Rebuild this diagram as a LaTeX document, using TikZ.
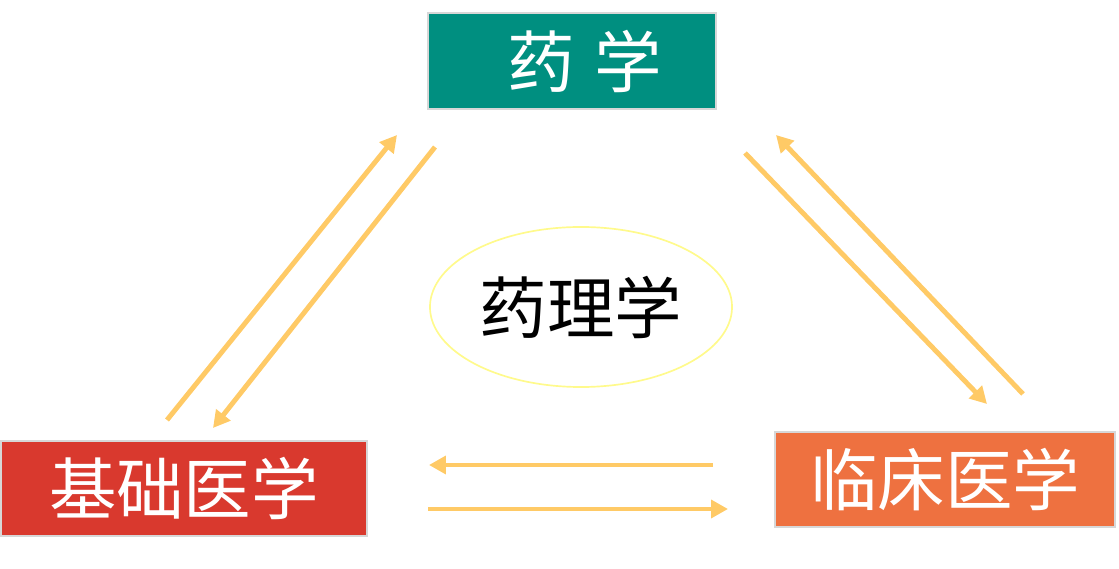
\documentclass[tikz,border=0pt]{standalone}
\usepackage{fontspec}
\setmainfont{Noto Sans CJK SC}
\usepackage{tikz}
\usetikzlibrary{arrows.meta}
\usetikzlibrary{shapes.geometric}
\definecolor{yaoteal}{RGB}{0,143,128}
\definecolor{jichured}{RGB}{217,57,46}
\definecolor{linchuangorange}{RGB}{238,113,64}
\definecolor{arrowgold}{RGB}{255,202,102}
\definecolor{ovalyellow}{RGB}{255,250,140}
\definecolor{boxgray}{RGB}{215,215,215}

\begin{document}
\begin{tikzpicture}[x=0.025cm,y=-0.025cm,
  subject/.style={draw=boxgray,line width=1.2pt,text=white,inner sep=0pt,
    minimum height=2.375cm,font=\fontsize{48}{56}\selectfont},
  link/.style={draw=arrowgold,line width=3.5pt,-{Triangle[length=0.42cm,width=0.44cm]}}]
\useasboundingbox (0,0) rectangle (1119,569);
\node[subject,fill=yaoteal,minimum width=7.2cm,minimum height=2.4cm](yx) at (572,61){\hspace{0.65cm}药\hspace{0.5cm}学};
\node[subject,fill=jichured,minimum width=9.15cm](jc) at (184,488.5){基础医学};
\node[subject,fill=linchuangorange,minimum width=8.5cm](lc) at (945,479.5){临床医学};
\node[draw=ovalyellow,line width=1.2pt,ellipse,minimum width=7.55cm,minimum height=4cm,
  inner sep=0pt,font=\fontsize{48}{56}\selectfont](yl) at (581,307){药理学};
\coordinate(a1) at (167,420);
\coordinate(a2) at (397,135);
\coordinate(b1) at (435,147);
\coordinate(b2) at (213,428);
\coordinate(c1) at (745,153);
\coordinate(c2) at (987,404);
\coordinate(d1) at (1023,394);
\coordinate(d2) at (776,135);
\coordinate(e1) at (713,465);
\coordinate(e2) at (429,465);
\coordinate(f1) at (428,509);
\coordinate(f2) at (728,509);
\draw[link](a1) -- (a2);
\draw[link](b1) -- (b2);
\draw[link](c1) -- (c2);
\draw[link](d1) -- (d2);
\draw[link](e1) -- (e2);
\draw[link](f1) -- (f2);
\end{tikzpicture}
\end{document}
